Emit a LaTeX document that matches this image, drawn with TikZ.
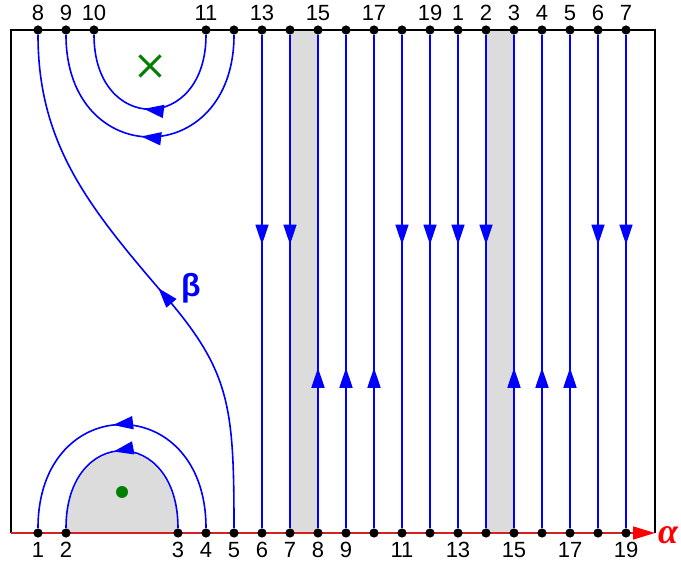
\documentclass[tikz,border=0pt]{standalone}
\usepackage{fontspec}
\setmainfont{Liberation Sans}
\newfontfamily\serifgreek{Liberation Serif}
\usetikzlibrary{arrows.meta, decorations.markings, backgrounds, shapes.misc}
\definecolor{flowBlue}{HTML}{0000FF}
\definecolor{regionGray}{HTML}{DCDCDC}
\definecolor{markGreen}{HTML}{008000}
\definecolor{axisRed}{HTML}{FF0000}
\definecolor{axisLine}{HTML}{D42020}
\tikzset{
  dot/.style={circle, fill=black, inner sep=0pt, minimum size=4.6pt},
  numlabel/.style={font=\fontsize{11}{12}\selectfont, inner sep=1.8pt},
  flow/.style={draw=flowBlue, line width=0.8pt},
  tipfwd/.style={postaction={decorate}, decoration={markings,
    mark=at position #1 with {\arrow{Triangle[length=10pt, width=6.5pt]}}}},
  tipback/.style={postaction={decorate}, decoration={markings,
    mark=at position #1 with {\arrowreversed{Triangle[length=10pt, width=6.5pt]}}}},
  frame/.style={draw=black, line width=0.7pt},
  axis/.style={draw=axisLine, line width=0.7pt, -{Triangle[length=11pt, width=6.5pt, color=axisRed]}},
}

\begin{document}
\begin{tikzpicture}[x=0.5pt, y=-0.5pt]
  \useasboundingbox (0,0) rectangle (681,561);

  % === Corners of the square ===
  \coordinate (nw) at (11,30);
  \coordinate (ne) at (655,30);
  \coordinate (sw) at (11,533);
  \coordinate (se) at (655,533);

  % === Points on the top edge ===
  \foreach \x/\n/\l in {38/8/8, 66/9/9, 94/10/10, 206/11/11, 234/12/{}, 262/13/13,
      290/14/{}, 318/15/15, 346/16/{}, 374/17/17, 402/18/{}, 430/19/19, 458/1/1,
      486/2/2, 514/3/3, 542/4/4, 570/5/5, 598/6/6, 626/7/7}
    \node[dot, label={[numlabel]above:\l}] (t\n) at (\x,30) {};

  % === Points on the bottom edge ===
  \foreach \x/\n/\l in {38/1/1, 66/2/2, 178/3/3, 206/4/4, 234/5/5, 262/6/6, 290/7/7,
      318/8/8, 346/9/9, 374/10/{}, 402/11/11, 430/12/{}, 458/13/13, 486/14/{},
      514/15/15, 542/16/{}, 570/17/17, 598/18/{}, 626/19/19}
    \node[dot, label={[numlabel]below:\l}] (b\n) at (\x,533) {};

  % === Shaded regions, frame and axis ===
  \begin{scope}[on background layer]
    \fill[regionGray] (t14.center) rectangle (b8.center);
    \fill[regionGray] (t2.center) rectangle (b15.center);
    \fill[regionGray] (b2.center) .. controls +(0,-108) and +(0,-108) .. (b3.center) -- cycle;
    \draw[frame] (sw) -- (nw) -- (ne) -- (se);
    \draw[axis] (sw) -- (se);
  \end{scope}

  % Vertical flow lines
  \draw[flow, tipfwd=0.425] (t13) -- (b6);
  \draw[flow, tipfwd=0.425] (t14) -- (b7);
  \draw[flow, tipback=0.675] (t15) -- (b8);
  \draw[flow, tipback=0.675] (t16) -- (b9);
  \draw[flow, tipback=0.675] (t17) -- (b10);
  \draw[flow, tipfwd=0.425] (t18) -- (b11);
  \draw[flow, tipfwd=0.425] (t19) -- (b12);
  \draw[flow, tipfwd=0.425] (t1) -- (b13);
  \draw[flow, tipfwd=0.425] (t2) -- (b14);
  \draw[flow, tipback=0.675] (t3) -- (b15);
  \draw[flow, tipback=0.675] (t4) -- (b16);
  \draw[flow, tipback=0.675] (t5) -- (b17);
  \draw[flow, tipfwd=0.425] (t6) -- (b18);
  \draw[flow, tipfwd=0.425] (t7) -- (b19);

  % Arcs near the top edge
  \draw[flow, tipback=0.47] (t10) .. controls +(0,104) and +(0,104) .. (t11);
  \draw[flow, tipback=0.47] (t9) .. controls +(0,141) and +(0,141) .. (t12);

  % Arcs near the bottom edge
  \draw[flow, tipback=0.46] (b2) .. controls +(0,-108) and +(0,-108) .. (b3);
  \draw[flow, tipback=0.47] (b1) .. controls +(0,-143) and +(0,-143) .. (b4);

  % Curve beta
  \coordinate (bmid) at (160,290);
  \draw[flow, tipback=0.525] (t8) .. controls +(0,112) and +(-73,-85) .. (bmid)
    .. controls +(70,80) and +(0,-130) .. (b5);
  \node[text=flowBlue, font=\fontsize{16}{18}\selectfont\bfseries] (betalabel) at (191,288) {β};

  % Singular points
  \node[cross out, draw=markGreen, line width=1.5pt, minimum size=9pt] (pole) at (150,66) {};
  \node[circle, fill=markGreen, inner sep=0pt, minimum size=6pt] (zero) at (122,492) {};

  % Axis label
  \node[text=axisRed, font=\serifgreek\fontsize{18}{20}\selectfont\bfseries\itshape] (alphalabel) at (668,535) {α};
\end{tikzpicture}
\end{document}
